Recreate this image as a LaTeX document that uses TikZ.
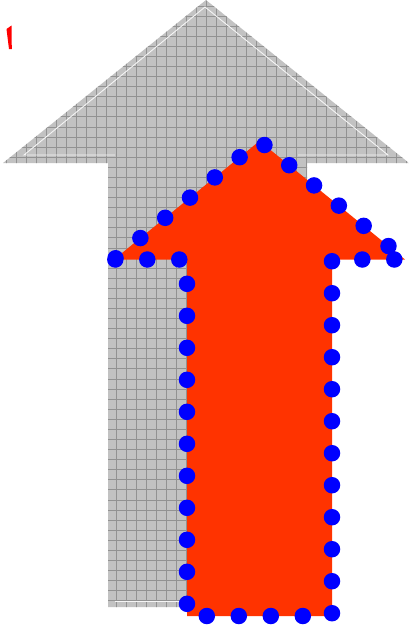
\documentclass[tikz,border=0pt]{standalone}
\usepackage{tikz}

\definecolor{arrowgray}{RGB}{194,194,194}
\definecolor{gridgray}{RGB}{146,146,146}
\definecolor{arrowred}{RGB}{255,51,0}
\definecolor{dotblue}{RGB}{0,0,255}
\definecolor{markred}{RGB}{255,0,0}

\begin{document}
\begin{tikzpicture}[
  x=1pt, y=-1pt,
  gridline/.style={draw=gridgray, line width=0.8pt},
  bevel/.style={draw=white!92!gray, line width=0.9pt},
  redbody/.style={fill=arrowred},
  dotline/.style={
    draw=dotblue, line width=16.5pt, line cap=round,
    dash pattern=on 0pt off 32pt, dash phase=30pt
  },
]
\useasboundingbox (0,0) rectangle (409,630);

% =========================== small red mark ===============================
\fill[markred] (6.5,29) -- (11.5,25.5) -- (11.8,49) -- (9,49) -- cycle;

% =========================== gray arrow ===================================
\begin{scope}
  \clip (3,163) -- (206,0) -- (409,163) -- (307,163) -- (307,607)
        -- (108,607) -- (108,163) -- cycle;
  \fill[arrowgray] (0,0) rectangle (409,630);
  \foreach \k in {0,...,40}{
    \draw[gridline] ({6.5 + \k * 10}, 0) -- ++(0, 630);
  }
  \foreach \k in {0,...,62}{
    \draw[gridline] (0, {6 + \k * 10.08}) -- ++(409, 0);
  }
\end{scope}

% inner highlight
\draw[bevel] (115,155) -- (24,155) -- (205,7) -- (388,155) -- (298,155);
\draw[bevel] (115,601) -- (298,601);

% =========================== red arrow ====================================
\fill[redbody] (114,259.5) -- (259.5,141) -- (405,259.5) -- (332,259.5)
  -- (332,616) -- (187,616) -- (187,259.5) -- cycle;

% dotted outline
\draw[dotline] (114,259.5) -- (259.5,141) -- (405,259.5) -- (332,259.5)
  -- (332,616) -- (187,616) -- (187,259.5) -- cycle;

\end{tikzpicture}
\end{document}
